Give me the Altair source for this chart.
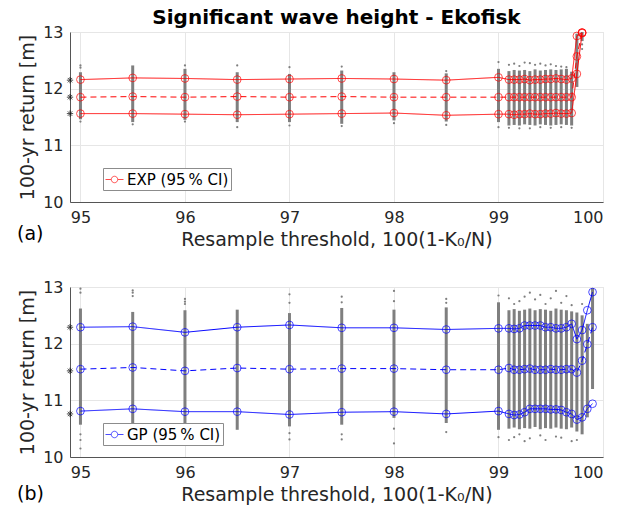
import altair as alt
import pandas as pd

FONT = "DejaVu Sans"

# ---------------- EXP (top panel) ----------------
exp_x = [95, 95.5, 96, 96.5, 97, 97.5, 98, 98.5, 99,
         99.1, 99.15, 99.2, 99.25, 99.3, 99.35, 99.4, 99.45, 99.5, 99.55, 99.6, 99.65, 99.7,
         99.75, 99.8]
exp_upper = [12.16, 12.19, 12.18, 12.16, 12.17, 12.18, 12.17, 12.15, 12.20,
             12.16, 12.16, 12.16, 12.17, 12.15, 12.16, 12.16, 12.17, 12.17, 12.18, 12.17, 12.16, 12.18,
             12.93, 12.99]
exp_mean = [11.85, 11.86, 11.85, 11.86, 11.85, 11.86, 11.85, 11.85, 11.85,
            11.85, 11.85, 11.85, 11.85, 11.85, 11.85, 11.85, 11.85, 11.85, 11.85, 11.85, 11.85, 11.85,
            12.57, 12.99]
exp_lower = [11.56, 11.56, 11.55, 11.54, 11.55, 11.56, 11.57, 11.53, 11.55,
             11.55, 11.54, 11.55, 11.55, 11.56, 11.55, 11.55, 11.56, 11.56, 11.57, 11.56, 11.56, 11.57,
             12.26, 12.98]
exp_cloud_lo = [11.46, 11.41, 11.45, 11.41, 11.41, 11.38, 11.44, 11.42, 11.41,
                11.35, 11.36, 11.35, 11.37, 11.36, 11.35, 11.37, 11.36, 11.35, 11.36, 11.37, 11.36, 11.35,
                12.03, 12.84]
exp_cloud_hi = [12.29, 12.41, 12.35, 12.29, 12.26, 12.32, 12.29, 12.27, 12.35,
                12.31, 12.33, 12.32, 12.33, 12.31, 12.34, 12.32, 12.33, 12.34, 12.33, 12.34, 12.35, 12.30,
                12.97, 13.0]
exp_dot_x = [95, 95, 95, 95.5, 96, 96, 96.5, 96.5, 97, 97, 97.5, 97.5, 98, 98.5, 98.5, 99, 99,
             99.1, 99.15, 99.2, 99.25, 99.3, 99.35, 99.4, 99.45, 99.5, 99.55, 99.6, 99.65,
             99.1, 99.2, 99.3, 99.4, 99.5, 99.6, 99.7, 99.8, 99.8]
exp_dot_y = [12.37, 12.41, 11.42, 11.37, 12.41, 11.42, 12.41, 11.32, 12.38, 11.35, 12.39, 11.34,
             11.39, 12.31, 11.36, 12.47, 11.32,
             12.42, 12.44, 12.40, 12.46, 12.45, 12.42, 12.44, 12.41, 12.43, 12.40, 12.39, 12.38,
             11.31, 11.30, 11.30, 11.32, 11.31, 11.32, 11.31, 12.70, 12.78]
exp_full = [11.56, 11.85, 12.15]

# ---------------- GP (bottom panel) ----------------
gp_x = [95, 95.5, 96, 96.5, 97, 97.5, 98, 98.5, 99,
        99.1, 99.15, 99.2, 99.25, 99.3, 99.35, 99.4, 99.45, 99.5, 99.55, 99.6, 99.65, 99.7,
        99.75, 99.8, 99.85, 99.9]
gp_upper = [12.29, 12.30, 12.20, 12.29, 12.33, 12.28, 12.28, 12.25, 12.27,
            12.27, 12.26, 12.27, 12.32, 12.32, 12.32, 12.32, 12.29, 12.29, 12.27, 12.27, 12.29, 12.35,
            12.08, 12.24, 12.59, 12.91]
gp_mean = [11.55, 11.58, 11.52, 11.57, 11.55, 11.56, 11.56, 11.54, 11.54,
           11.57, 11.54, 11.54, 11.55, 11.56, 11.54, 11.54, 11.54, 11.55, 11.54, 11.54, 11.55, 11.55,
           11.49, 11.70, 11.99, 12.29]
gp_lower = [10.81, 10.85, 10.80, 10.80, 10.75, 10.79, 10.80, 10.76, 10.81,
            10.76, 10.74, 10.75, 10.79, 10.85, 10.85, 10.85, 10.85, 10.84, 10.84, 10.83, 10.79, 10.76,
            10.66, 10.70, 10.85, 10.94]
gp_cloud_lo = [10.57, 10.55, 10.55, 10.48, 10.54, 10.57, 10.69, 10.60, 10.48,
               10.50, 10.52, 10.49, 10.51, 10.50, 10.53, 10.49, 10.51, 10.50, 10.52, 10.50, 10.49, 10.52,
               10.45, 10.40, 10.70, 11.20]
gp_cloud_hi = [12.62, 12.56, 12.59, 12.60, 12.54, 12.63, 12.60, 12.64, 12.73,
               12.59, 12.61, 12.58, 12.60, 12.62, 12.59, 12.61, 12.60, 12.58, 12.62, 12.60, 12.59, 12.57,
               12.55, 12.50, 12.35, 12.98]
gp_dot_x = [95, 95, 95, 95, 95, 95.5, 95.5, 95.5, 96, 96, 96, 97, 97, 97, 97, 97.5, 97.5, 97.5, 97.5,
            98, 98, 98, 98, 98.5, 98.5, 98.5, 99, 99,
            99.1, 99.1, 99.15, 99.15, 99.2, 99.2, 99.25, 99.25, 99.3, 99.3, 99.35, 99.4, 99.4,
            99.45, 99.45, 99.5, 99.55, 99.55, 99.6, 99.6, 99.65, 99.7, 99.7, 99.75, 99.8]
gp_dot_y = [12.97, 12.90, 10.40, 10.30, 10.15, 12.94, 12.90, 12.84, 12.79, 12.74, 12.70,
            12.87, 12.72, 10.31, 10.42, 12.83, 12.73, 10.31, 10.40,
            12.93, 12.75, 10.24, 10.50, 12.79, 12.72, 10.44, 12.85, 10.35,
            12.80, 10.30, 12.70, 10.35, 12.75, 10.40, 12.83, 10.28, 12.90, 10.33, 12.78, 12.86, 10.38,
            12.70, 10.30, 12.80, 12.93, 10.36, 12.72, 10.34, 12.84, 12.68, 10.28, 10.30, 12.70]
gp_full = [10.76, 11.52, 12.29]

X_TICKS = [95, 96, 97, 98, 99, 100]
Y_TICKS = [10, 11, 12, 13]

W, H = 533, 170
ASTERISK = "M-1,0L1,0M0,-1L0,1M-0.7,-0.7L0.7,0.7M-0.7,0.7L0.7,-0.7"
LEG_SYMBOL = "M-1,0L-0.36,0M0.36,0L1,0M-0.36,0A0.36,0.36,0,1,1,0.36,0A0.36,0.36,0,1,1,-0.36,0"


def panel(xs, lo, mean, up, clo, chi, dx, dy, full, color, label, tag, tag_dy, title=None):
    xscale = alt.Scale(domain=[94.9, 100], nice=False, zero=False)
    yscale = alt.Scale(domain=[10, 13], nice=False, zero=False)
    xaxis = alt.Axis(values=X_TICKS, title="Resample threshold, 100(1-K₀/N)", format="d")
    yaxis = alt.Axis(values=Y_TICKS, title="100-yr return [m]", format="d")

    cloud = pd.DataFrame({"x": xs, "lo": clo, "hi": chi})
    dots = pd.DataFrame({"x": dx, "y": dy})
    rows = []
    for name, arr in (("lower", lo), ("mean", mean), ("upper", up)):
        for xv, yv in zip(xs, arr):
            rows.append({"x": xv, "y": yv, "bound": name, "series": label})
    lines = pd.DataFrame(rows)
    fulldf = pd.DataFrame({"x": [94.9] * len(full), "y": full})

    leg = alt.Legend(orient="none", legendX=33, legendY=136, title=None,
                     strokeColor="#8c8c8c", fillColor="white", padding=2,
                     symbolType=LEG_SYMBOL, symbolSize=324, symbolStrokeWidth=1,
                     symbolFillColor="transparent", symbolStrokeColor=color,
                     labelFontSize=15, labelFont=FONT, labelColor="black", labelOffset=3)
    cscale = alt.Scale(domain=[label], range=[color])

    base = alt.Chart(cloud)
    l_cloud = base.mark_rule(color="#7f7f7f", strokeWidth=3).encode(
        x=alt.X("x:Q", scale=xscale, axis=xaxis),
        y=alt.Y("lo:Q", scale=yscale, axis=yaxis),
        y2="hi:Q",
    )
    l_dots = alt.Chart(dots).mark_circle(color="#7f7f7f", size=5, opacity=1).encode(
        x=alt.X("x:Q", scale=xscale), y=alt.Y("y:Q", scale=yscale)
    )
    l_lines = alt.Chart(lines).mark_line(strokeWidth=1).encode(
        x=alt.X("x:Q", scale=xscale),
        y=alt.Y("y:Q", scale=yscale),
        detail="bound:N",
        strokeDash=alt.StrokeDash("bound:N", scale=alt.Scale(domain=["lower", "mean", "upper"],
                                                             range=[[1, 0], [6, 4], [1, 0]]), legend=None),
        color=alt.Color("series:N", scale=cscale, legend=leg),
    )
    l_pts = alt.Chart(lines).mark_point(shape="circle", filled=False, size=60, strokeWidth=1).encode(
        x=alt.X("x:Q", scale=xscale),
        y=alt.Y("y:Q", scale=yscale),
        color=alt.Color("series:N", scale=cscale, legend=leg),
    )
    l_full = alt.Chart(fulldf).mark_point(shape=ASTERISK, size=40, strokeWidth=1, color="black",
                                          filled=False).encode(
        x=alt.X("x:Q", scale=xscale), y=alt.Y("y:Q", scale=yscale)
    )
    l_tag = alt.Chart(pd.DataFrame({"t": [tag]})).mark_text(
        align="left", baseline="middle", fontSize=19, font=FONT, color="black"
    ).encode(text="t:N", x=alt.value(-53), y=alt.value(H + tag_dy))

    props = dict(width=W, height=H)
    if title is not None:
        props["title"] = alt.TitleParams(title, fontSize=20, fontWeight="bold", font=FONT,
                                         color="black", offset=-4, anchor="middle")
    return alt.layer(l_cloud, l_dots, l_lines, l_pts, l_full, l_tag).properties(**props)


top = panel(exp_x, exp_lower, exp_mean, exp_upper, exp_cloud_lo, exp_cloud_hi, exp_dot_x, exp_dot_y,
            exp_full, "#ff0000", "EXP (95\u2009% CI)", "(a)", 32,
            title="Significant wave height - Ekofisk")
bot = panel(gp_x, gp_lower, gp_mean, gp_upper, gp_cloud_lo, gp_cloud_hi, gp_dot_x, gp_dot_y,
            gp_full, "#0000ff", "GP (95\u2009% CI)", "(b)", 37)

chart = alt.vconcat(top, bot, spacing=28).resolve_scale(
    color="independent", strokeDash="independent"
).resolve_legend(color="independent").properties(
    padding={"left": 16, "top": 7, "right": 5, "bottom": 2}
).configure_view(stroke="#dcdcdc").configure_axis(
    labelFont=FONT, titleFont=FONT, labelFontSize=16, titleFontSize=19,
    labelColor="#262626", titleColor="#262626", titleFontWeight="normal",
    gridColor="#e6e6e6", domainColor="#555555", ticks=False, labelPadding=7,
    titlePadding=5
)

chart.save("out.html", embed_options={"renderer": "svg", "actions": False})
